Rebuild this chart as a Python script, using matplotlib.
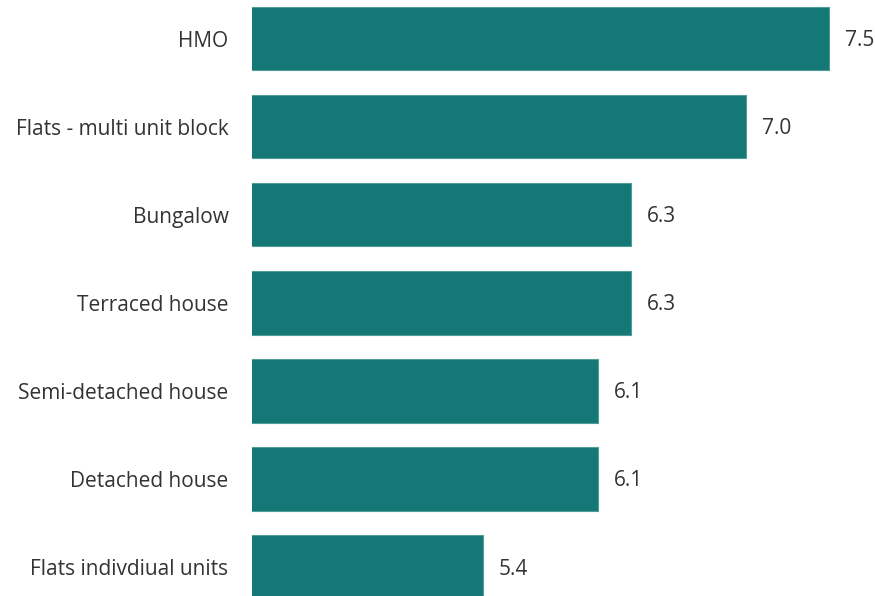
import matplotlib.pyplot as plt

categories = ['HMO', 'Flats - multi unit block', 'Bungalow', 'Terraced house',
              'Semi-detached house', 'Detached house', 'Flats indivdiual units']
values = [7.5, 7.0, 6.3, 6.3, 6.1, 6.1, 5.4]

plt.rcParams['font.family'] = ['Open Sans', 'DejaVu Sans']

fig = plt.figure(figsize=(8.75, 5.96), dpi=100)
ax = fig.add_axes([252 / 875, 0, 623 / 875, 1])

y = range(len(categories))
ax.barh(y, values, height=0.72, color='#147876', edgecolor='#4f9c98', linewidth=0.8)
for yi, v in zip(y, values):
    ax.annotate(f'{v:.1f}', (v, yi), xytext=(11.5, -1.5), textcoords='offset points',
                va='center', ha='left', fontsize=15, color='#333333')

ax.set_xlim(4.0, 7.78)
ax.set_ylim(6.33, -0.44)
ax.set_yticks(list(y))
ax.set_yticklabels(categories, fontsize=15, color='#333333')
ax.tick_params(axis='y', length=0, pad=17)
ax.set_xticks([])
for s in ax.spines.values():
    s.set_visible(False)

fig.savefig('out.png', dpi=100)
